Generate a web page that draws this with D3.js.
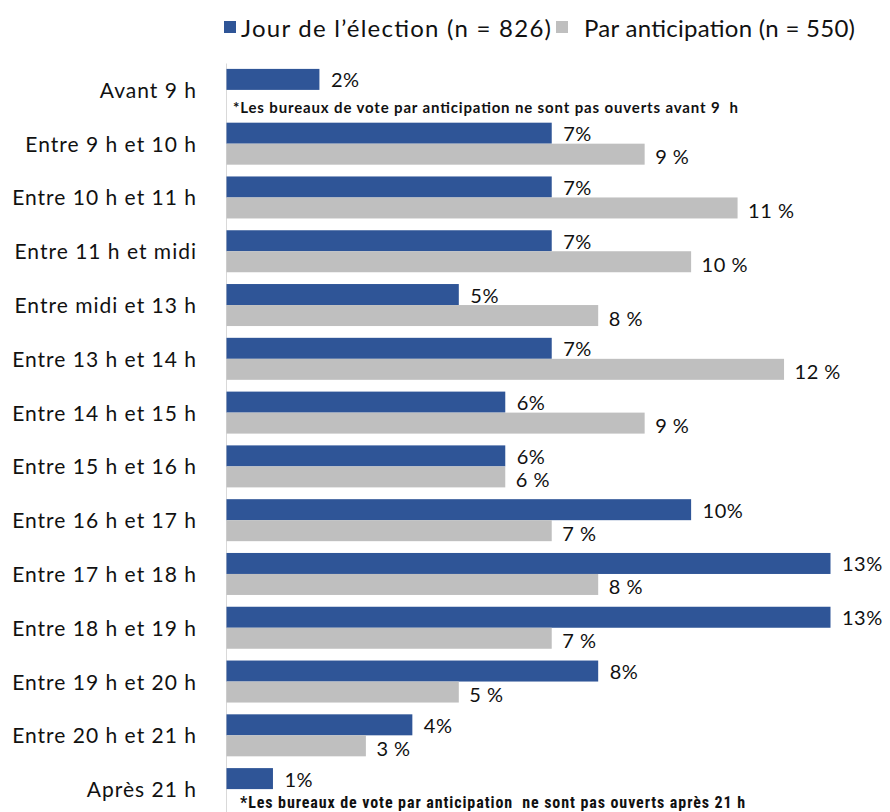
<!DOCTYPE html>
<html>
<head>
<meta charset="utf-8">
<script src="https://cdn.jsdelivr.net/npm/d3@7"></script>
<style>
  body { margin: 0; background: #fff; }
  text { font-family: Lato, 'Open Sans', sans-serif; }
</style>
</head>
<body>
<svg id="canvas"></svg>
<script>
let categories = ['Avant 9 h', 'Entre 9 h et 10 h', 'Entre 10 h et 11 h', 'Entre 11 h et midi',
  'Entre midi et 13 h', 'Entre 13 h et 14 h', 'Entre 14 h et 15 h', 'Entre 15 h et 16 h',
  'Entre 16 h et 17 h', 'Entre 17 h et 18 h', 'Entre 18 h et 19 h', 'Entre 19 h et 20 h',
  'Entre 20 h et 21 h', 'Après 21 h'];
let jourValues = [2, 7, 7, 7, 5, 7, 6, 6, 10, 13, 13, 8, 4, 1];
let anticipationValues = [null, 9, 11, 10, 8, 12, 9, 6, 7, 8, 7, 5, 3, null];
let seriesNames = ['Jour de l’élection (n = 826)', 'Par anticipation (n = 550)'];
let noteFirst = '*Les bureaux de vote par anticipation ne sont pas ouverts avant 9\u00a0 h';
let noteLast = '*Les bureaux de vote par anticipation\u00a0 ne sont pas ouverts après 21 h';

let width = 890;
let height = 812;
let left = 226;
let blue = '#2f5597';
let grey = '#bfbfbf';

let canvas = d3.select('#canvas').attr('width', width).attr('height', height);

let xScale = d3.scaleLinear().domain([0, 13]).range([left, 830]);
let yScale = d3.scaleBand().domain(categories).range([63, 816]);
let subScale = d3.scaleBand().domain(['jour', 'anticipation'])
  .range([yScale.bandwidth() / 2 - 21, yScale.bandwidth() / 2 + 21]);

let rows = categories.map((c, i) => ({ category: c, jour: jourValues[i], anticipation: anticipationValues[i] }));

// axis with category labels
let yAxis = d3.axisLeft(yScale).tickSize(0).tickPadding(29);
let axisG = canvas.append('g')
  .attr('transform', 'translate(' + left + ',0)')
  .call(yAxis);
axisG.select('.domain').attr('stroke', '#d9d9d9').attr('stroke-width', 1);
axisG.selectAll('.tick text')
  .attr('fill', '#111')
  .attr('dy', '0.38em')
  .style('font-size', '21px')
  .style('letter-spacing', '1px')
  .style('font-family', 'Lato, sans-serif');

let groups = canvas.selectAll('.row').data(rows).enter().append('g')
  .attr('class', 'row')
  .attr('transform', d => 'translate(0,' + yScale(d.category) + ')');

// jour de l'élection
groups.append('rect')
  .attr('x', xScale(0) + 0.5)
  .attr('y', subScale('jour'))
  .attr('width', d => xScale(d.jour) - xScale(0))
  .attr('height', subScale.bandwidth())
  .attr('fill', blue);

groups.append('text')
  .attr('x', d => xScale(d.jour) + 12)
  .attr('y', subScale('jour') + subScale.bandwidth() / 2)
  .attr('dominant-baseline', 'central')
  .style('font-size', '20px')
  .style('letter-spacing', '0.5px')
  .attr('fill', '#111')
  .text(d => d.jour + '%');

// par anticipation
let ant = groups.filter(d => d.anticipation != null);
ant.append('rect')
  .attr('x', xScale(0) + 0.5)
  .attr('y', subScale('anticipation'))
  .attr('width', d => xScale(d.anticipation) - xScale(0))
  .attr('height', subScale.bandwidth())
  .attr('fill', grey);

ant.append('text')
  .attr('x', d => xScale(d.anticipation) + 11)
  .attr('y', subScale('anticipation') + subScale.bandwidth() / 2 + 2)
  .attr('dominant-baseline', 'central')
  .style('font-size', '20px')
  .style('letter-spacing', '0.5px')
  .attr('fill', '#111')
  .text(d => d.anticipation + '\u00a0%');

// notes where there is no early vote
canvas.append('text')
  .attr('x', 233)
  .attr('y', yScale(categories[0]) + subScale('anticipation') + 17)
  .attr('dominant-baseline', 'central')
  .attr('textLength', 505)
  .attr('lengthAdjust', 'spacing')
  .style('font-size', '15px')
  .style('font-weight', 'bold')
  .attr('fill', '#111')
  .text(noteFirst);

canvas.append('text')
  .attr('x', 240)
  .attr('y', yScale(categories[13]) + subScale('anticipation') + 13)
  .attr('dominant-baseline', 'central')
  .attr('textLength', 505)
  .attr('lengthAdjust', 'spacing')
  .style('font-size', '16px')
  .style('font-weight', 'bold')
  .style('font-family', "'Liberation Sans Narrow', 'Roboto Condensed', sans-serif")
  .attr('fill', '#111')
  .text(noteLast);

// legend
let legendX = [224, 556];
let legendGap = [17, 28];
let legendWidth = [310, 271];
let legendColors = [blue, grey];
let legend = canvas.selectAll('.legend').data(seriesNames).enter().append('g')
  .attr('class', 'legend')
  .attr('transform', (d, i) => 'translate(' + legendX[i] + ',21)');
legend.append('rect')
  .attr('width', 12).attr('height', 12)
  .attr('fill', (d, i) => legendColors[i]);
legend.append('text')
  .attr('x', (d, i) => legendGap[i])
  .attr('y', 6)
  .attr('dominant-baseline', 'central')
  .attr('textLength', (d, i) => legendWidth[i])
  .attr('lengthAdjust', 'spacing')
  .style('font-size', '24px')
  .attr('fill', '#111')
  .text(d => d);
</script>
</body>
</html>
